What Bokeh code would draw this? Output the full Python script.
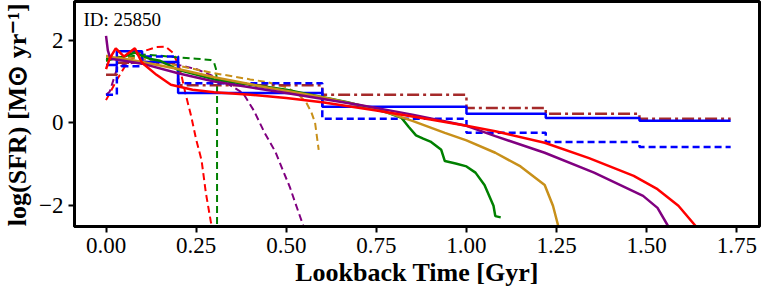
from bokeh.plotting import figure
from bokeh.models import Range1d, FixedTicker, Label
from bokeh.embed import file_html
from bokeh.resources import INLINE

# ---- data ----
bin_edges = [0.0, 0.03, 0.1, 0.2, 0.6, 1.0, 1.22, 1.48, 1.733]
sfr_blue_solid = [1.4, 1.73, 1.47, 0.72, 0.39, 0.22, 0.12, 0.05]
sfr_blue_dashed = [0.68, 1.37, 1.6, 0.96, 0.1, -0.24, -0.46, -0.58]
sfr_brown_dashdot = [1.16, 1.45, 1.45, 0.91, 0.68, 0.36, 0.22, 0.1]

red_t = [0, 0.01, 0.027, 0.05, 0.08, 0.1, 0.14, 0.18, 0.24, 0.3, 0.4, 0.5, 0.6, 0.75, 0.9, 1.0, 1.08, 1.217, 1.34, 1.464, 1.53, 1.588, 1.637]
red_sfr = [1.3, 1.55, 1.8, 1.6, 1.8, 1.45, 1.16, 0.92, 0.8, 0.74, 0.68, 0.6, 0.5, 0.3, 0.08, -0.07, -0.2, -0.48, -0.85, -1.28, -1.6, -2.0, -2.5]

purple_t = [0, 0.005, 0.012, 0.05, 0.1, 0.2, 0.3, 0.5, 0.7, 0.85, 1.0, 1.08, 1.217, 1.354, 1.49, 1.53, 1.56]
purple_sfr = [2.1, 1.75, 1.55, 1.5, 1.43, 1.2, 1.0, 0.72, 0.44, 0.2, -0.07, -0.32, -0.72, -1.2, -1.76, -2.05, -2.5]

gold_t = [0, 0.05, 0.1, 0.2, 0.3, 0.45, 0.6, 0.75, 0.85, 0.94, 1.0, 1.08, 1.15, 1.217, 1.24, 1.255]
gold_sfr = [1.6, 1.55, 1.47, 1.3, 1.1, 0.85, 0.62, 0.34, 0.05, -0.24, -0.42, -0.72, -1.05, -1.5, -2.0, -2.5]

green_t = [0, 0.02, 0.05, 0.08, 0.1, 0.12, 0.15, 0.2, 0.3, 0.5, 0.67, 0.78, 0.82, 0.84, 0.86, 0.88, 0.9, 0.93, 0.94, 0.97, 1.0, 1.025, 1.05, 1.075, 1.08, 1.095]
green_sfr = [1.5, 1.55, 1.6, 1.7, 1.62, 1.55, 1.5, 1.28, 1.05, 0.8, 0.5, 0.25, 0.12, -0.1, -0.3, -0.38, -0.45, -0.65, -0.92, -0.98, -1.05, -1.2, -1.5, -2.0, -2.25, -2.28]

green_d_t = [0, 0.05, 0.1, 0.15, 0.2, 0.25, 0.29, 0.3, 0.305, 0.308, 0.308]
green_d_sfr = [1.55, 1.58, 1.65, 1.62, 1.58, 1.55, 1.52, 1.45, 1.3, 0.9, -2.5]

gold_d_t = [0, 0.1, 0.2, 0.3, 0.4, 0.45, 0.5, 0.53, 0.555, 0.57, 0.58, 0.59]
gold_d_sfr = [1.62, 1.55, 1.38, 1.2, 1.05, 0.98, 0.86, 0.72, 0.5, 0.25, 0.0, -0.65]

purple_d_t = [0, 0.01, 0.03, 0.05, 0.1, 0.15, 0.2, 0.25, 0.3, 0.35, 0.38, 0.41, 0.44, 0.47, 0.49, 0.51, 0.525, 0.548]
purple_d_sfr = [0.68, 0.75, 1.3, 1.42, 1.48, 1.45, 1.4, 1.3, 1.12, 0.88, 0.72, 0.3, -0.24, -0.7, -1.13, -1.55, -1.93, -2.5]

red_d_t = [0, 0.03, 0.055, 0.09, 0.14, 0.165, 0.186, 0.206, 0.22, 0.236, 0.25, 0.265, 0.277, 0.291, 0.294]
red_d_sfr = [0.55, 1.04, 1.4, 1.69, 1.83, 1.84, 1.69, 1.28, 0.72, 0.17, -0.4, -0.9, -1.69, -2.4, -2.5]

x_ticks = [0.0, 0.25, 0.5, 0.75, 1.0, 1.25, 1.5, 1.75]
y_ticks = [-2, 0, 2]

SERIF = "Liberation Serif"

p = figure(width=762, height=292, output_backend="svg", toolbar_location=None,
           x_range=Range1d(-0.0875, 1.813), y_range=Range1d(-2.5, 2.93),
           min_border_left=67, min_border_right=3, min_border_top=1, min_border_bottom=66)
p.grid.visible = False
p.outline_line_color = "black"
p.outline_line_width = 3

def steps(vals):
    return vals + [vals[-1]]

# dashed continuous
p.line(red_d_t, red_d_sfr, color="red", line_width=2, line_dash="7 4")
p.line(green_d_t, green_d_sfr, color="green", line_width=2, line_dash="7 4")
p.line(purple_d_t, purple_d_sfr, color="purple", line_width=2, line_dash="7 4")
p.line(gold_d_t, gold_d_sfr, color="#C8901A", line_width=2, line_dash="7 4")

# step histories
p.step(bin_edges, steps(sfr_brown_dashdot), mode="after", color="#A52A2A", line_width=2.5, line_dash="12 4 3 4")
p.step(bin_edges, steps(sfr_blue_dashed), mode="after", color="blue", line_width=2.5, line_dash="7 4")
p.step(bin_edges, steps(sfr_blue_solid), mode="after", color="blue", line_width=2.5)

# solid continuous
p.line(green_t, green_sfr, color="green", line_width=2.5)
p.line(gold_t, gold_sfr, color="#C8901A", line_width=2.5)
p.line(purple_t, purple_sfr, color="purple", line_width=2.5)
p.line(red_t, red_sfr, color="red", line_width=2.5)

for ax in (p.xaxis[0], p.yaxis[0]):
    ax.axis_line_width = 3
    ax.axis_line_color = "black"
    ax.major_tick_line_width = 2
    ax.major_tick_in = 0
    ax.major_tick_out = 6
    ax.minor_tick_line_color = None
    ax.major_label_text_font = SERIF
    ax.major_label_text_font_size = "23px"
    ax.major_label_text_color = "black"
    ax.axis_label_text_font = SERIF
    ax.axis_label_text_font_style = "bold"
    ax.axis_label_text_font_size = "26px"
    ax.axis_label_text_color = "black"

p.xaxis[0].ticker = FixedTicker(ticks=x_ticks)
p.xaxis[0].major_label_overrides = {t: f"{t:.2f}" for t in x_ticks}
p.yaxis[0].ticker = FixedTicker(ticks=y_ticks)
p.yaxis[0].major_label_overrides = {-2: "\u22122", 0: "0", 2: "2"}
p.xaxis[0].axis_label = "Lookback Time [Gyr]"
p.yaxis[0].axis_label = "log(SFR)  [M\u2299 yr\u207b\u00b9]"
p.xaxis[0].axis_label_standoff = 2
p.yaxis[0].axis_label_standoff = 4
p.xaxis[0].major_label_standoff = 5
p.yaxis[0].major_label_standoff = 5

p.add_layout(Label(x=9, y=218, x_units="screen", y_units="screen", text="ID: 25850",
                   text_font=SERIF, text_font_size="19px", text_color="black",
                   text_baseline="top"))

open("out.html", "w").write(file_html(p, INLINE))
